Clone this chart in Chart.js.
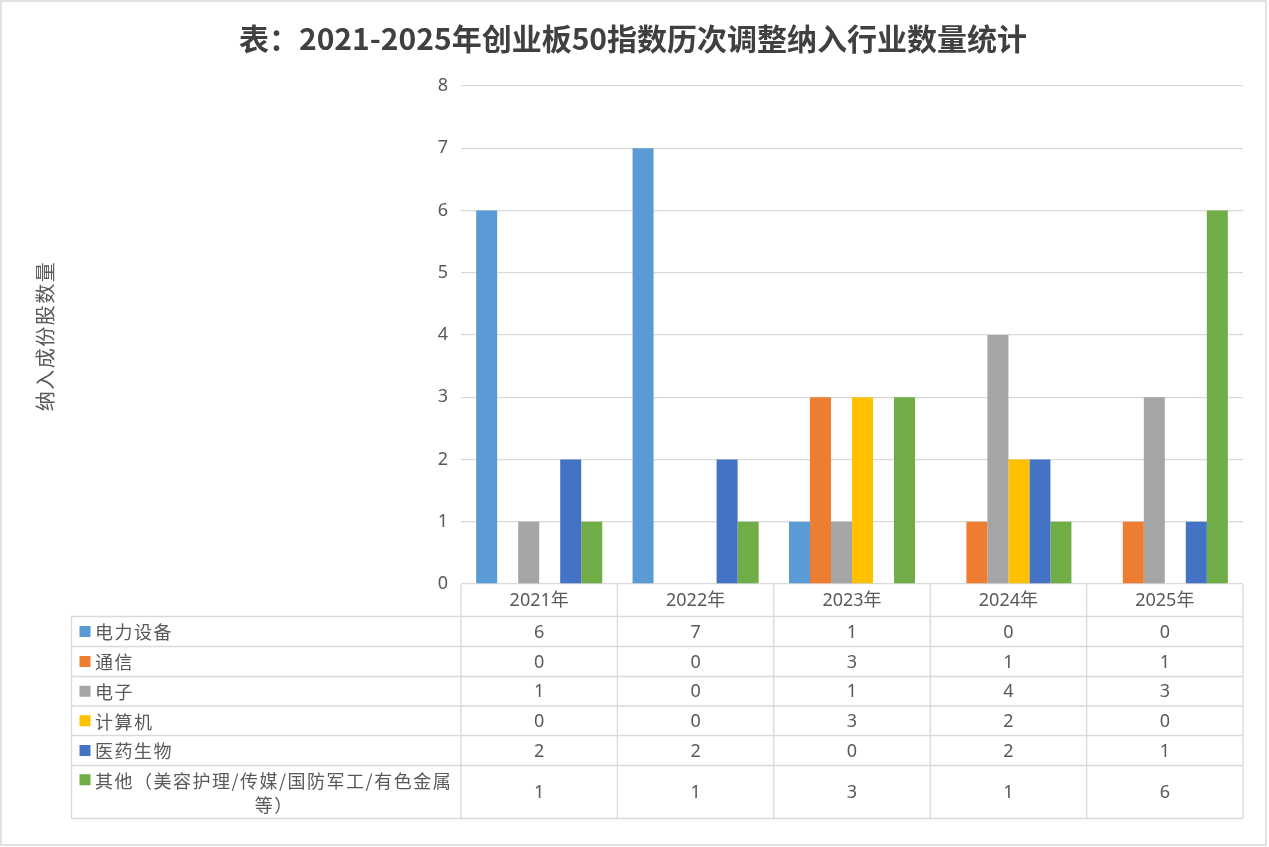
<!DOCTYPE html>
<html>
<head>
<meta charset="utf-8">
<script src="https://cdn.jsdelivr.net/npm/chart.js@4.4.1/dist/chart.umd.min.js"></script>
<style>
  body { margin: 0; background: #fff; }
  canvas { display: block; }
</style>
</head>
<body>
<canvas id="main" width="1269" height="847"></canvas>
<script>
// Data
const categories = ['2021年', '2022年', '2023年', '2024年', '2025年']
const seriesNames = ['电力设备', '通信', '电子', '计算机', '医药生物', '其他（美容护理/传媒/国防军工/有色金属等）']
const powerEquip  = [6, 7, 1, 0, 0]
const telecom     = [0, 0, 3, 1, 1]
const electronics = [1, 0, 1, 4, 3]
const computer    = [0, 0, 3, 2, 0]
const pharma      = [2, 2, 0, 2, 1]
const others      = [1, 1, 3, 1, 6]
const yTicks      = [0, 1, 2, 3, 4, 5, 6, 7, 8]

const seriesData = [powerEquip, telecom, electronics, computer, pharma, others]
const seriesColors = ['#5B9BD5', '#ED7D31', '#A5A5A5', '#FFC000', '#4472C4', '#70AD47']

const textColor = '#595959'
const lineColor = '#d9d9d9'
const latin = '"Noto Sans", "Noto Sans CJK SC", sans-serif'
const cjk = '"Noto Sans CJK SC", "Noto Sans", sans-serif'

// split a label into lines that fit the cell
function wrapText(ctx, text, maxW) {
    let lines = []
    let cur = ''
    for (const ch of text) {
        if (ctx.measureText(cur + ch).width > maxW && cur) {
            lines.push(cur)
            cur = ch
        } else {
            cur += ch
        }
    }
    lines.push(cur)
    return lines
}

// Title, axis title, data table and outer frame
const decorPlugin = {
    id: 'decor',
    afterDraw(chart) {
        const {ctx, chartArea, scales: {x}} = chart
        ctx.save()

        // outer frame
        ctx.strokeStyle = lineColor
        ctx.lineWidth = 1.5
        ctx.strokeRect(1, 1, 1265, 844)

        // title
        ctx.fillStyle = '#404040'
        ctx.font = 'bold 30px ' + cjk
        ctx.textAlign = 'center'
        ctx.textBaseline = 'middle'
        ctx.fillText('表：2021-2025年创业板50指数历次调整纳入行业数量统计', 633, 39)

        // y axis title
        ctx.save()
        ctx.translate(45, 336)
        ctx.rotate(-Math.PI / 2)
        ctx.fillStyle = textColor
        ctx.font = '20px ' + cjk
        ctx.letterSpacing = '1.5px'
        ctx.fillText('纳入成份股数量', 0, 0)
        ctx.restore()

        // data table
        const n = categories.length
        const step = (chartArea.right - chartArea.left) / n
        const tableLeft = 71.5
        const headerTop = chartArea.bottom
        const rowTops = [616.5, 646.5, 676.5, 706, 735.5, 765.5, 818.5]
        const last = rowTops[rowTops.length - 1]

        ctx.strokeStyle = lineColor
        ctx.lineWidth = 1.3
        ctx.beginPath()
        rowTops.forEach(function(y) {
            ctx.moveTo(tableLeft, y)
            ctx.lineTo(chartArea.right, y)
        })
        for (let i = 0; i <= n; i++) {
            const xx = chartArea.left + i * step
            ctx.moveTo(xx, headerTop)
            ctx.lineTo(xx, last)
        }
        ctx.moveTo(tableLeft, rowTops[0])
        ctx.lineTo(tableLeft, last)
        ctx.stroke()

        // header labels
        ctx.fillStyle = textColor
        ctx.font = '18px ' + latin
        ctx.textAlign = 'center'
        categories.forEach(function(c, j) {
            ctx.fillText(c, x.getPixelForValue(j), (headerTop + rowTops[0]) / 2 + 1)
        })

        // rows
        chart.data.datasets.forEach(function(ds, i) {
            const top = rowTops[i]
            const bottom = rowTops[i + 1]
            const mid = (top + bottom) / 2

            ctx.font = '18px ' + cjk
            ctx.letterSpacing = '1.5px'
            const lines = wrapText(ctx, ds.label, 458 - 95)
            const lh = 24.5
            const firstY = mid - (lines.length - 1) * lh / 2

            ctx.fillStyle = ds.backgroundColor
            ctx.fillRect(79.5, firstY - 5.5, 11, 11)

            ctx.fillStyle = textColor
            lines.forEach(function(line, k) {
                if (k === 0) {
                    ctx.textAlign = 'left'
                    ctx.fillText(line, 95, firstY + 1)
                } else {
                    ctx.textAlign = 'center'
                    ctx.fillText(line, (tableLeft + chartArea.left) / 2 + 8, firstY + k * lh + 1)
                }
            })
            ctx.letterSpacing = '0px'

            ctx.font = '18px ' + latin
            ctx.textAlign = 'center'
            ds.data.forEach(function(v, j) {
                ctx.fillText(String(v), x.getPixelForValue(j), mid + 1)
            })
        })

        ctx.restore()
    }
}

window.mainChart = new Chart('main', {
    type: 'bar',
    data: {
        labels: categories,
        datasets: seriesNames.map(function(name, i) {
            return {
                label: name,
                data: seriesData[i],
                backgroundColor: seriesColors[i],
                borderWidth: 0,
                categoryPercentage: 0.806,
                barPercentage: 1,
            }
        })
    },
    options: {
        responsive: false,
        animation: false,
        devicePixelRatio: 1,
        layout: {
            padding: {left: 0, right: 26, top: 86, bottom: 263}
        },
        scales: {
            x: {
                display: false,
            },
            y: {
                min: yTicks[0],
                max: yTicks[yTicks.length - 1],
                afterFit: function(scale) { scale.width = 461 },
                afterBuildTicks: function(scale) {
                    scale.ticks = yTicks.map(function(v) { return {value: v} })
                },
                ticks: {
                    stepSize: 1,
                    padding: 13,
                    color: textColor,
                    font: {size: 18, family: latin},
                },
                grid: {
                    color: lineColor,
                    lineWidth: 1.3,
                    drawTicks: false,
                },
                border: {display: false},
            },
        },
        plugins: {
            legend: {display: false},
            title: {display: false},
            tooltip: {enabled: false},
        },
    },
    plugins: [decorPlugin],
})
</script>
</body>
</html>
